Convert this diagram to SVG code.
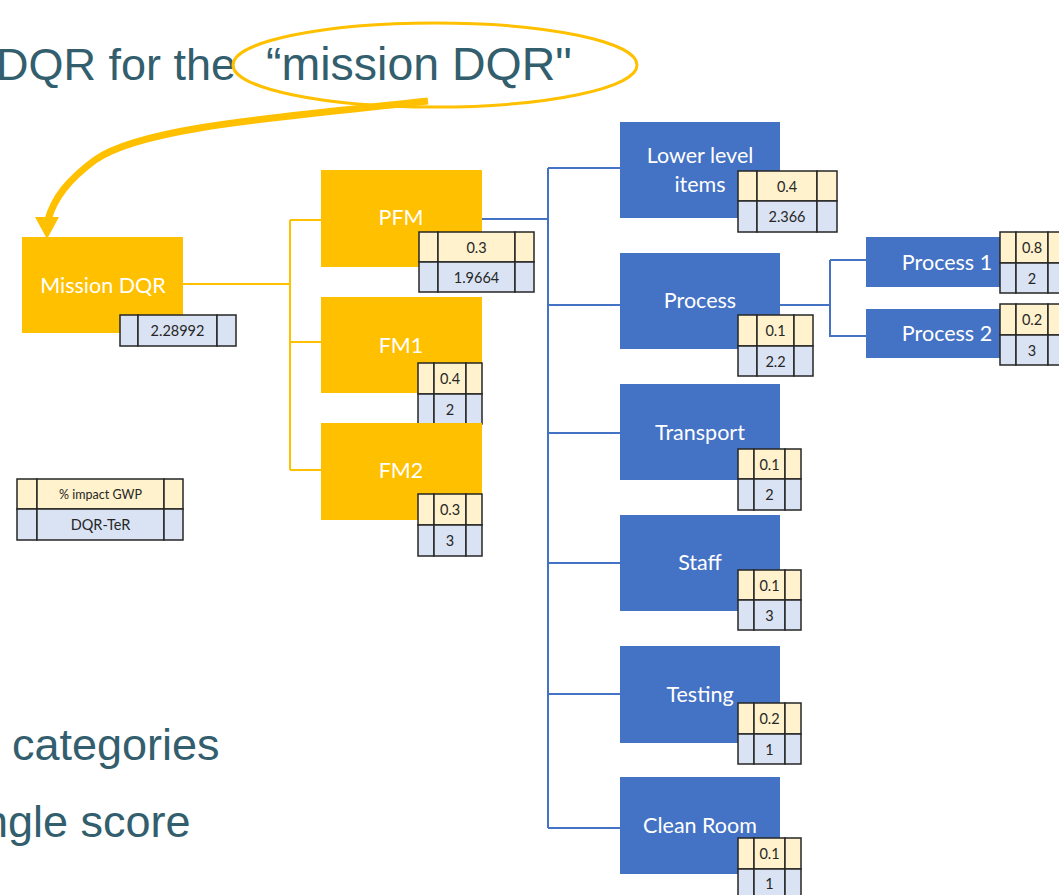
<svg xmlns="http://www.w3.org/2000/svg" width="1059" height="895" viewBox="0 0 1059 895">
<style>
.big{font-family:"Liberation Sans",Arial,sans-serif;font-size:45px;fill:#325E6D}
.y{fill:#FFC000}
.b{fill:#4472C4}
.nt{font-family:Lato,"Open Sans",sans-serif;font-size:21.5px;fill:#FFFFFF;text-anchor:middle}
.cy{fill:#FFF2CC;stroke:#262626;stroke-width:1.5}
.cb{fill:#DAE3F3;stroke:#262626;stroke-width:1.5}
.tt{font-family:Lato,"Open Sans",sans-serif;font-size:14.5px;fill:#262626;text-anchor:middle}
.yl{fill:none;stroke:#FFC000;stroke-width:2}
.bl{fill:none;stroke:#4472C4;stroke-width:2}
</style>
<rect width="1059" height="895" fill="#FFFFFF"/>
<g id="title">
<text class="big" x="-4" y="80">DQR for the</text>
<text class="big" x="266" y="80" style="font-size:46.5px">“mission DQR"</text>
<ellipse cx="435" cy="65" rx="202" ry="42" fill="none" stroke="#FFC000" stroke-width="3"/>
</g>
<g id="bottom-text">
<text class="big" x="12" y="760">categories</text>
<text class="big" x="-17" y="837">ngle score</text>
</g>
<g id="connectors">
<path d="M428,101 C 270,118 140,128 95,160 C 68,180 54,198 48,220" fill="none" stroke="#FFC000" stroke-width="7"/>
<polygon points="35,217 59,217 47,239" fill="#FFC000"/>
<path class="yl" d="M183,284 H290 M290,220 V470 M290,220 H321 M290,342 H321 M290,470 H321"/>
<path class="bl" d="M482,219 H548 M548,168 V828 M548,168 H620 M548,305 H620 M548,433 H620 M548,563 H620 M548,694 H620 M548,828 H620"/>
<path class="bl" d="M780,305 H830 M830,260 V337 M830,260 H866 M830,336 H866"/>
</g>
<g id="mission-dqr">
<rect class="y" x="22" y="237" width="161" height="96"/>
<text class="nt" x="103" y="293">Mission DQR</text>
<rect class="cb" x="120" y="315" width="18" height="31"/><rect class="cb" x="138" y="315" width="79" height="31"/><rect class="cb" x="217" y="315" width="19" height="31"/>
<text class="tt" x="177.5" y="335.5">2.28992</text>
</g>
<g id="pfm">
<rect class="y" x="321" y="170" width="161" height="97"/>
<text class="nt" x="401" y="225">PFM</text>
<rect class="cy" x="419" y="232" width="19" height="30"/><rect class="cy" x="438" y="232" width="77" height="30"/><rect class="cy" x="515" y="232" width="19" height="30"/>
<rect class="cb" x="419" y="262" width="19" height="30"/><rect class="cb" x="438" y="262" width="77" height="30"/><rect class="cb" x="515" y="262" width="19" height="30"/>
<text class="tt" x="476.5" y="252.5">0.3</text><text class="tt" x="476.5" y="282.5">1.9664</text>
</g>
<g id="fm1">
<rect class="y" x="321" y="297" width="161" height="96"/>
<text class="nt" x="401" y="353">FM1</text>
<rect class="cy" x="418" y="363" width="16" height="31"/><rect class="cy" x="434" y="363" width="32" height="31"/><rect class="cy" x="466" y="363" width="16" height="31"/>
<rect class="cb" x="418" y="394" width="16" height="30"/><rect class="cb" x="434" y="394" width="32" height="30"/><rect class="cb" x="466" y="394" width="16" height="30"/>
<text class="tt" x="450" y="383.5">0.4</text><text class="tt" x="450" y="414.5">2</text>
</g>
<g id="fm2">
<rect class="y" x="321" y="423" width="161" height="97"/>
<text class="nt" x="401" y="478">FM2</text>
<rect class="cy" x="418" y="494" width="16" height="31"/><rect class="cy" x="434" y="494" width="32" height="31"/><rect class="cy" x="466" y="494" width="16" height="31"/>
<rect class="cb" x="418" y="525" width="16" height="31"/><rect class="cb" x="434" y="525" width="32" height="31"/><rect class="cb" x="466" y="525" width="16" height="31"/>
<text class="tt" x="450" y="514.5">0.3</text><text class="tt" x="450" y="545.5">3</text>
</g>
<g id="lower-level-items">
<rect class="b" x="620" y="122" width="160" height="96"/>
<text class="nt" x="700" y="163">Lower level</text>
<text class="nt" x="700" y="192">items</text>
<rect class="cy" x="738" y="171" width="19" height="30"/><rect class="cy" x="757" y="171" width="60" height="30"/><rect class="cy" x="817" y="171" width="20" height="30"/>
<rect class="cb" x="738" y="201" width="19" height="31"/><rect class="cb" x="757" y="201" width="60" height="31"/><rect class="cb" x="817" y="201" width="20" height="31"/>
<text class="tt" x="787" y="191.5">0.4</text><text class="tt" x="787" y="221.5">2.366</text>
</g>
<g id="process">
<rect class="b" x="620" y="253" width="160" height="96"/>
<text class="nt" x="700" y="308">Process</text>
<rect class="cy" x="738" y="315" width="19" height="31"/><rect class="cy" x="757" y="315" width="37" height="31"/><rect class="cy" x="794" y="315" width="19" height="31"/>
<rect class="cb" x="738" y="346" width="19" height="30"/><rect class="cb" x="757" y="346" width="37" height="30"/><rect class="cb" x="794" y="346" width="19" height="30"/>
<text class="tt" x="775.5" y="335.5">0.1</text><text class="tt" x="775.5" y="366.5">2.2</text>
</g>
<g id="transport">
<rect class="b" x="620" y="384" width="160" height="96"/>
<text class="nt" x="700" y="440">Transport</text>
<rect class="cy" x="738" y="449" width="16" height="30"/><rect class="cy" x="754" y="449" width="31" height="30"/><rect class="cy" x="785" y="449" width="16" height="30"/>
<rect class="cb" x="738" y="479" width="16" height="31"/><rect class="cb" x="754" y="479" width="31" height="31"/><rect class="cb" x="785" y="479" width="16" height="31"/>
<text class="tt" x="769.5" y="469.5">0.1</text><text class="tt" x="769.5" y="499.5">2</text>
</g>
<g id="staff">
<rect class="b" x="620" y="515" width="160" height="96"/>
<text class="nt" x="700" y="570">Staff</text>
<rect class="cy" x="738" y="570" width="16" height="30"/><rect class="cy" x="754" y="570" width="31" height="30"/><rect class="cy" x="785" y="570" width="16" height="30"/>
<rect class="cb" x="738" y="600" width="16" height="30"/><rect class="cb" x="754" y="600" width="31" height="30"/><rect class="cb" x="785" y="600" width="16" height="30"/>
<text class="tt" x="769.5" y="590.5">0.1</text><text class="tt" x="769.5" y="620.5">3</text>
</g>
<g id="testing">
<rect class="b" x="620" y="646" width="160" height="97"/>
<text class="nt" x="700" y="702">Testing</text>
<rect class="cy" x="738" y="703" width="16" height="31"/><rect class="cy" x="754" y="703" width="31" height="31"/><rect class="cy" x="785" y="703" width="16" height="31"/>
<rect class="cb" x="738" y="734" width="16" height="30"/><rect class="cb" x="754" y="734" width="31" height="30"/><rect class="cb" x="785" y="734" width="16" height="30"/>
<text class="tt" x="769.5" y="723.5">0.2</text><text class="tt" x="769.5" y="754.5">1</text>
</g>
<g id="clean-room">
<rect class="b" x="620" y="777" width="160" height="97"/>
<text class="nt" x="700" y="833">Clean Room</text>
<rect class="cy" x="738" y="838" width="16" height="31"/><rect class="cy" x="754" y="838" width="31" height="31"/><rect class="cy" x="785" y="838" width="16" height="31"/>
<rect class="cb" x="738" y="869" width="16" height="31"/><rect class="cb" x="754" y="869" width="31" height="31"/><rect class="cb" x="785" y="869" width="16" height="31"/>
<text class="tt" x="769.5" y="858.5">0.1</text><text class="tt" x="769.5" y="889">1</text>
</g>
<g id="process-1">
<rect class="b" x="866" y="237" width="134" height="50"/>
<text class="nt" x="947" y="270">Process 1</text>
<rect class="cy" x="1000" y="232" width="16" height="31"/><rect class="cy" x="1016" y="232" width="32" height="31"/><rect class="cy" x="1048" y="232" width="16" height="31"/>
<rect class="cb" x="1000" y="263" width="16" height="30"/><rect class="cb" x="1016" y="263" width="32" height="30"/><rect class="cb" x="1048" y="263" width="16" height="30"/>
<text class="tt" x="1032" y="252.5">0.8</text><text class="tt" x="1032" y="283.5">2</text>
</g>
<g id="process-2">
<rect class="b" x="866" y="309" width="134" height="49"/>
<text class="nt" x="947" y="341">Process 2</text>
<rect class="cy" x="1000" y="304" width="16" height="31"/><rect class="cy" x="1016" y="304" width="32" height="31"/><rect class="cy" x="1048" y="304" width="16" height="31"/>
<rect class="cb" x="1000" y="335" width="16" height="30"/><rect class="cb" x="1016" y="335" width="32" height="30"/><rect class="cb" x="1048" y="335" width="16" height="30"/>
<text class="tt" x="1032" y="324.5">0.2</text><text class="tt" x="1032" y="355.5">3</text>
</g>
<g id="legend">
<rect class="cy" x="17" y="479" width="20" height="30"/><rect class="cy" x="37" y="479" width="127" height="30"/><rect class="cy" x="164" y="479" width="19" height="30"/>
<rect class="cb" x="17" y="509" width="20" height="31"/><rect class="cb" x="37" y="509" width="127" height="31"/><rect class="cb" x="164" y="509" width="19" height="31"/>
<text class="tt" x="100.5" y="499" style="font-size:12.5px">% impact GWP</text>
<text class="tt" x="100.5" y="530">DQR-TeR</text>
</g>
</svg>
